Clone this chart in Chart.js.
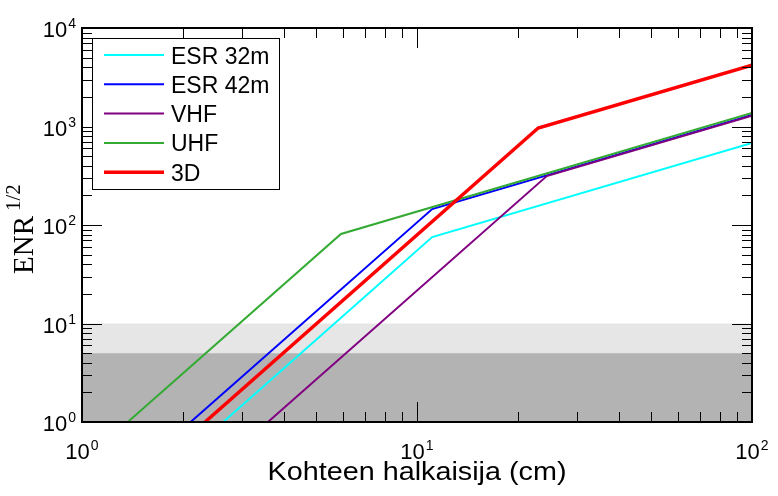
<!DOCTYPE html>
<html>
<head>
<meta charset="utf-8">
<script src="https://cdn.jsdelivr.net/npm/chart.js@4.4.0/dist/chart.umd.min.js"></script>
<style>
  html, body { margin: 0; padding: 0; background: #fff; }
  #wrap { width: 778px; height: 496px; }
</style>
</head>
<body>
<div id="wrap"><canvas id="enrChart" width="778" height="496"></canvas></div>
<script>
// series (x = target diameter in cm, y = ENR^(1/2))
var seriesNames = ['ESR 32m', 'ESR 42m', 'VHF', 'UHF', '3D'];
var esr32X = [2.64, 11.1, 100];
var esr32Y = [1, 75.5, 680];
var esr42X = [2.11, 11.1, 100];
var esr42Y = [1, 145, 1310];
var vhfX   = [3.59, 24.4, 100];
var vhfY   = [1, 314, 1290];
var uhfX   = [1.37, 5.93, 100];
var uhfY   = [1, 81, 1370];
var d3X    = [2.33, 23, 100];
var d3Y    = [1, 966, 4200];

// shaded detection-threshold bands
var bandX      = [1, 100];
var lightBandY = [10, 10];
var darkBandY  = [5, 5];

// axis ticks
var xTickValues = [1,2,3,4,5,6,7,8,9,10,20,30,40,50,60,70,80,90,100];
var yTickValues = [1,2,3,4,5,6,7,8,9,10,20,30,40,50,60,70,80,90,100,
                   200,300,400,500,600,700,800,900,1000,
                   2000,3000,4000,5000,6000,7000,8000,9000,10000];
var xTickLabels = [[1, '0'], [10, '1'], [100, '2']];
var yTickLabels = [[1, '0'], [10, '1'], [100, '2'], [1000, '3'], [10000, '4']];

var xTitle = 'Kohteen halkaisija (cm)';

function pts(xs, ys) {
  return xs.map(function(x, i) { return { x: x, y: ys[i] }; });
}

function lineSet(label, xs, ys, color, width, order) {
  return {
    label: label,
    data: pts(xs, ys),
    borderColor: color,
    backgroundColor: color,
    borderWidth: width,
    pointRadius: 0,
    fill: false,
    tension: 0,
    order: order
  };
}

function isMajor(v) {
  var l = Math.log10(v);
  return Math.abs(l - Math.round(l)) < 1e-9;
}

function drawPow(ctx, exp, x, y, align) {
  ctx.font = '22px "Liberation Sans", Arial, sans-serif';
  var wb = ctx.measureText('10').width;
  ctx.font = '14px "Liberation Sans", Arial, sans-serif';
  var we = ctx.measureText(exp).width;
  var total = wb + 1 + we;
  var x0 = align === 'center' ? x - total / 2 : x - total;
  ctx.textAlign = 'left';
  ctx.textBaseline = 'alphabetic';
  ctx.font = '22px "Liberation Sans", Arial, sans-serif';
  ctx.fillText('10', x0, y);
  ctx.font = '14px "Liberation Sans", Arial, sans-serif';
  ctx.fillText(exp, x0 + wb + 1, y - 9);
}

var axesPlugin = {
  id: 'matlabAxes',
  afterDatasetsDraw: function(chart) {
    var ctx = chart.ctx;
    var a = chart.chartArea;
    var xs = chart.scales.x, ys = chart.scales.y;
    ctx.save();
    ctx.strokeStyle = '#000';
    ctx.lineWidth = 1;
    ctx.beginPath();
    xTickValues.forEach(function(v) {
      var px = Math.round(xs.getPixelForValue(v)) + 0.5;
      var len = isMajor(v) ? 20 : 10;
      ctx.moveTo(px, a.bottom); ctx.lineTo(px, a.bottom - len);
      ctx.moveTo(px, a.top); ctx.lineTo(px, a.top + len);
    });
    yTickValues.forEach(function(v) {
      var py = Math.round(ys.getPixelForValue(v)) + 0.5;
      var len = isMajor(v) ? 20 : 10;
      ctx.moveTo(a.left, py); ctx.lineTo(a.left + len, py);
      ctx.moveTo(a.right, py); ctx.lineTo(a.right - len, py);
    });
    ctx.stroke();
    ctx.lineWidth = 2;
    ctx.strokeRect(a.left, a.top, a.right - a.left, a.bottom - a.top);
    ctx.restore();
  },
  afterDraw: function(chart) {
    var ctx = chart.ctx;
    var a = chart.chartArea;
    var xs = chart.scales.x, ys = chart.scales.y;
    ctx.save();
    ctx.fillStyle = '#000';

    // tick labels
    xTickLabels.forEach(function(t) {
      drawPow(ctx, t[1], xs.getPixelForValue(t[0]), a.bottom + 37, 'center');
    });
    yTickLabels.forEach(function(t) {
      drawPow(ctx, t[1], a.left - 6, ys.getPixelForValue(t[0]) + 9, 'right');
    });

    // x title
    ctx.font = '25px "Liberation Sans", Arial, sans-serif';
    var tw = ctx.measureText(xTitle).width;
    var sx = 299 / tw;
    ctx.save();
    ctx.translate((a.left + a.right) / 2, a.bottom + 58);
    ctx.scale(sx, 1);
    ctx.textAlign = 'center';
    ctx.textBaseline = 'alphabetic';
    ctx.fillText(xTitle, 0, 0);
    ctx.restore();

    // y title: ENR^{1/2}
    ctx.save();
    ctx.translate(33, 274);
    ctx.rotate(-Math.PI / 2);
    ctx.textAlign = 'left';
    ctx.textBaseline = 'alphabetic';
    ctx.font = '29px "Liberation Serif", "Times New Roman", serif';
    ctx.fillText('ENR', 0, 0);
    var we = ctx.measureText('ENR').width;
    ctx.font = '21px "Liberation Serif", "Times New Roman", serif';
    ctx.fillText('1/2', we + 5, -13);
    ctx.restore();

    // legend box
    var lx = a.left + 10, ly = a.top + 10, lw = 187, lh = 151;
    ctx.fillStyle = '#fff';
    ctx.fillRect(lx, ly, lw, lh);
    ctx.strokeStyle = '#000';
    ctx.lineWidth = 1;
    ctx.strokeRect(lx + 0.5, ly + 0.5, lw, lh);
    var lineSets = chart.data.datasets.filter(function(d) { return d.label; });
    lineSets.forEach(function(d, i) {
      var ry = ly + 17 + i * 29.3;
      ctx.strokeStyle = d.borderColor;
      ctx.lineWidth = d.borderWidth > 2 ? 3.5 : 2;
      ctx.beginPath();
      ctx.moveTo(lx + 12, ry);
      ctx.lineTo(lx + 72, ry);
      ctx.stroke();
      ctx.fillStyle = '#000';
      ctx.font = '23px "Liberation Sans", Arial, sans-serif';
      ctx.textAlign = 'left';
      ctx.textBaseline = 'alphabetic';
      ctx.fillText(d.label, lx + 79, ry + 8.5);
    });
    ctx.restore();
  }
};

new Chart(document.getElementById('enrChart'), {
  type: 'line',
  data: {
    datasets: [
      lineSet(seriesNames[0], esr32X, esr32Y, '#00ffff', 2, 5),
      lineSet(seriesNames[1], esr42X, esr42Y, '#0000ff', 2, 4),
      lineSet(seriesNames[2], vhfX, vhfY, '#800080', 2, 3),
      lineSet(seriesNames[3], uhfX, uhfY, '#33aa33', 2, 2),
      lineSet(seriesNames[4], d3X, d3Y, '#ff0000', 3.5, 1),
      {
        data: pts(bandX, lightBandY),
        borderWidth: 0,
        pointRadius: 0,
        backgroundColor: '#e6e6e6',
        fill: 'start',
        order: 7
      },
      {
        data: pts(bandX, darkBandY),
        borderWidth: 0,
        pointRadius: 0,
        backgroundColor: '#b3b3b3',
        fill: 'start',
        order: 6
      }
    ]
  },
  options: {
    responsive: false,
    animation: false,
    layout: { padding: { left: 82, top: 28, right: 26, bottom: 74 } },
    plugins: {
      legend: { display: false },
      tooltip: { enabled: false }
    },
    scales: {
      x: { type: 'logarithmic', min: 1, max: 100, display: false },
      y: { type: 'logarithmic', min: 1, max: 10000, display: false }
    }
  },
  plugins: [axesPlugin]
});
</script>
</body>
</html>
